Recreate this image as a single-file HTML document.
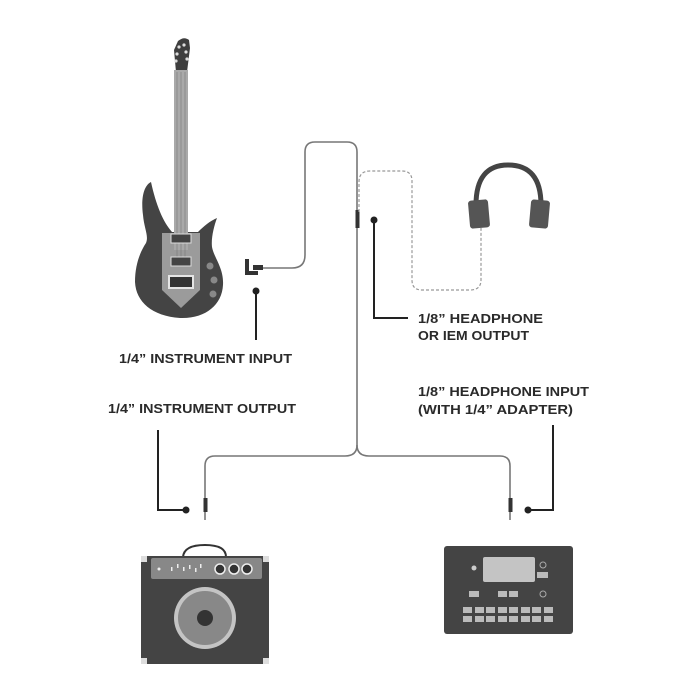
<!DOCTYPE html>
<html><head><meta charset="utf-8"><style>
html,body{margin:0;padding:0;background:#fff;}
svg{display:block}
text{font-family:"Liberation Sans",sans-serif;font-weight:bold;font-size:13px;fill:#2a2a2a}
</style></head><body>
<svg width="700" height="700" viewBox="0 0 700 700" xmlns="http://www.w3.org/2000/svg">
<!-- Guitar -->
<path d="M176,72 L174,50 L178,41 Q184,36 189,40 L190,48 L187,72 Z" fill="#3e3e3e"/>
<g fill="#ddd"><circle cx="179" cy="47" r="1.6"/><circle cx="177" cy="54" r="1.6"/><circle cx="176" cy="61" r="1.6"/><circle cx="186" cy="52" r="1.6"/><circle cx="187" cy="59" r="1.6"/><circle cx="184" cy="45" r="1.6"/></g>
<path d="M151,182 C143,186 141,200 143,215 C144,228 149,236 146,243 C140,252 135,265 135,282 C136,302 152,316 180,318 C205,319 222,305 223,285 C224,268 214,258 212,247 C211,238 214,226 217,218 C210,221 204,226 198,232 L172,232 C163,222 156,205 151,182 Z" fill="#444"/>
<path d="M162,233 L200,233 L200,290 L181,308 L162,290 Z" fill="#9b9b9b"/>
<rect x="174" y="70" width="14" height="180" fill="#a9a9a9"/>
<g stroke="#777" stroke-width="0.6"><line x1="177" y1="72" x2="177" y2="258"/><line x1="181" y1="72" x2="181" y2="258"/><line x1="185" y1="72" x2="185" y2="258"/></g>
<rect x="171" y="234" width="20" height="9" fill="#444" stroke="#ddd" stroke-width="1"/>
<rect x="171" y="257" width="20" height="9" fill="#444" stroke="#ddd" stroke-width="1"/>
<rect x="169" y="276" width="24" height="12" fill="#333" stroke="#e5e5e5" stroke-width="2"/>
<g fill="#888"><circle cx="210" cy="266" r="3.5"/><circle cx="214" cy="280" r="3.5"/><circle cx="213" cy="294" r="3.5"/></g>
<!-- Main cable -->
<path d="M262,268 L292,268 Q305,268 305,255 L305,152 Q305,142 315,142 L347,142 Q357,142 357,152 L357,445 Q357,456 345,456 L215,456 Q205,456 205,466 L205,520" fill="none" stroke="#777" stroke-width="1.6"/>
<path d="M357,445 Q357,456 369,456 L500,456 Q510,456 510,466 L510,520" fill="none" stroke="#777" stroke-width="1.6"/>
<path d="M245,259 L245,275 L258,275 L258,271 L249,271 L249,259 Z" fill="#333"/>
<rect x="253" y="265" width="10" height="5" fill="#333"/>
<rect x="355.5" y="210" width="4" height="18" fill="#333"/>
<rect x="203.5" y="498" width="4" height="14" fill="#333"/>
<rect x="508.5" y="498" width="4" height="14" fill="#333"/>
<!-- dashed headphone cable -->
<path d="M359,212 L359,182 Q359,171 370,171 L402,171 Q412,171 412,181 L412,280 Q412,290 422,290 L470,290 Q481,290 481,280 L481,226" fill="none" stroke="#999" stroke-width="1.2" stroke-dasharray="3,2"/>
<!-- headphones -->
<path d="M476,205 Q476,165 508,165 Q541,165 541,205" fill="none" stroke="#444" stroke-width="5"/>
<rect x="469" y="200" width="20" height="28" rx="3" fill="#555" transform="rotate(-5 479 214)"/>
<rect x="530" y="200" width="19" height="28" rx="3" fill="#555" transform="rotate(5 539 214)"/>
<!-- callouts -->
<g stroke="#222" stroke-width="2" fill="none">
<path d="M256,291 L256,340"/>
<path d="M374,220 L374,318 L408,318"/>
<path d="M158,430 L158,510 L186,510"/>
<path d="M553,425 L553,510 L528,510"/>
</g>
<g fill="#222"><circle cx="256" cy="291" r="3.5"/><circle cx="374" cy="220" r="3.5"/><circle cx="186" cy="510" r="3.5"/><circle cx="528" cy="510" r="3.5"/></g>
<text x="418" y="323" textLength="125" lengthAdjust="spacingAndGlyphs">1/8” HEADPHONE</text>
<text x="418" y="340" textLength="111" lengthAdjust="spacingAndGlyphs">OR IEM OUTPUT</text>
<text x="119" y="363" textLength="173" lengthAdjust="spacingAndGlyphs">1/4” INSTRUMENT INPUT</text>
<text x="108" y="413" textLength="188" lengthAdjust="spacingAndGlyphs">1/4” INSTRUMENT OUTPUT</text>
<text x="418" y="396" textLength="171" lengthAdjust="spacingAndGlyphs">1/8” HEADPHONE INPUT</text>
<text x="418" y="414" textLength="155" lengthAdjust="spacingAndGlyphs">(WITH 1/4” ADAPTER)</text>
<!-- Amp -->
<path d="M183,557 Q184,545 205,545 Q226,545 226,557" fill="none" stroke="#333" stroke-width="2"/>
<rect x="141" y="556" width="128" height="108" fill="#444"/>
<g fill="#ddd"><rect x="141" y="556" width="6" height="6"/><rect x="263" y="556" width="6" height="6"/><rect x="141" y="658" width="6" height="6"/><rect x="263" y="658" width="6" height="6"/></g>
<rect x="151" y="558" width="111" height="21" rx="2" fill="#888"/>
<circle cx="159" cy="569" r="1.5" fill="#eee"/>
<g fill="#eee"><rect x="171" y="567" width="1.5" height="4"/><rect x="177" y="564" width="1.5" height="4"/><rect x="183" y="567" width="1.5" height="4"/><rect x="189" y="565" width="1.5" height="4"/><rect x="195" y="568" width="1.5" height="4"/><rect x="200" y="564" width="1.5" height="4"/></g>
<g fill="#333" stroke="#eee" stroke-width="1.5"><circle cx="220" cy="569" r="5"/><circle cx="234" cy="569" r="5"/><circle cx="247" cy="569" r="5"/></g>
<circle cx="205" cy="618" r="31" fill="#c4c4c4"/>
<circle cx="205" cy="618" r="27" fill="#888"/>
<circle cx="205" cy="618" r="8" fill="#333"/>
<!-- Device -->
<rect x="444" y="546" width="129" height="88" rx="3" fill="#444"/>
<rect x="483" y="557" width="52" height="25" rx="2" fill="#c4c4c4"/>
<circle cx="474" cy="568" r="2.5" fill="#ccc"/>
<circle cx="543" cy="565" r="3" fill="none" stroke="#aaa" stroke-width="1"/>
<rect x="537" y="572" width="11" height="6" fill="#bbb"/>
<circle cx="543" cy="594" r="3" fill="none" stroke="#aaa" stroke-width="1"/>
<g fill="#bbb"><rect x="469" y="591" width="10" height="6"/><rect x="498" y="591" width="9" height="6"/><rect x="509" y="591" width="9" height="6"/></g>
<g fill="#bbb">
<rect x="463" y="607" width="9" height="6"/><rect x="475" y="607" width="9" height="6"/><rect x="486" y="607" width="9" height="6"/><rect x="498" y="607" width="9" height="6"/><rect x="509" y="607" width="9" height="6"/><rect x="521" y="607" width="9" height="6"/><rect x="532" y="607" width="9" height="6"/><rect x="544" y="607" width="9" height="6"/>
<rect x="463" y="616" width="9" height="6"/><rect x="475" y="616" width="9" height="6"/><rect x="486" y="616" width="9" height="6"/><rect x="498" y="616" width="9" height="6"/><rect x="509" y="616" width="9" height="6"/><rect x="521" y="616" width="9" height="6"/><rect x="532" y="616" width="9" height="6"/><rect x="544" y="616" width="9" height="6"/>
</g>
</svg>
</body></html>
